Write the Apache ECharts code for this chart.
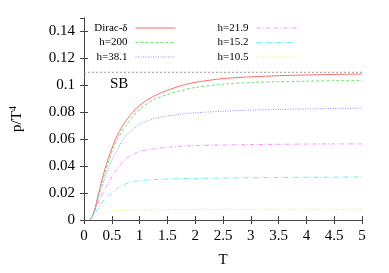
<!DOCTYPE html>
<html><head><meta charset="utf-8">
<script src="https://cdn.jsdelivr.net/npm/echarts@6/dist/echarts.min.js"></script>
<style>html,body{margin:0;padding:0;background:#fff}#c{width:389px;height:273px}</style>
</head><body><div id="c"></div>
<script>
const T = [0.1,0.15,0.2,0.25,0.3,0.4,0.5,0.6,0.75,0.9,1,1.25,1.5,1.75,2,2.5,3,3.5,4,4.5,5];
const diracDelta = [0,0.003,0.009,0.0175,0.026,0.041,0.053,0.063,0.0735,0.081,0.0852,0.0918,0.0963,0.0998,0.1022,0.1050,0.1063,0.1071,0.1077,0.1081,0.1084];
const h200 = [0,0.003,0.0085,0.0165,0.0245,0.038,0.0504,0.060,0.0699,0.078,0.0821,0.0894,0.0932,0.0962,0.0984,0.1008,0.1021,0.1027,0.1031,0.1034,0.1035];
const h38_1 = [0,0.0028,0.008,0.015,0.022,0.034,0.0443,0.0525,0.0626,0.068,0.0711,0.0752,0.0772,0.0786,0.0796,0.0808,0.0816,0.0821,0.0825,0.0828,0.083];
const h21_9 = [0,0.0025,0.007,0.012,0.017,0.025,0.0321,0.038,0.0455,0.049,0.0509,0.0528,0.054,0.0548,0.0553,0.0557,0.056,0.0562,0.0564,0.0565,0.0565];
const h15_2 = [0,0.002,0.005,0.008,0.0115,0.0165,0.020,0.0235,0.0268,0.0285,0.0292,0.030,0.0304,0.0307,0.0309,0.0312,0.0314,0.0316,0.0317,0.0318,0.0319];
const h10_5 = [0,0.0012,0.0025,0.0038,0.0048,0.006,0.0066,0.007,0.0073,0.0074,0.0075,0.0076,0.0077,0.0078,0.0078,0.0079,0.0079,0.008,0.008,0.008,0.008];
const sbValue = 0.1097;
const sbT = [0,5];
const seriesNames = ['Dirac-δ','h=200','h=38.1','h=21.9','h=15.2','h=10.5'];
const seriesValues = [diracDelta,h200,h38_1,h21_9,h15_2,h10_5];
const colors = ['#ff6b6b','#6fe26f','#8c8cff','#ff8cff','#66f0f0','#e8e84a'];
const dashes = ['solid',[3,2],[1,1.5],[4,2,1,2],[5,2,1,2],[1,2]];

const FONT = 'Liberation Serif';
const chart = echarts.init(document.getElementById('c'), null, {renderer:'canvas'});
const series = seriesNames.map((n,i)=>({
  name:n, type:'line', symbol:'none', smooth:0.3, silent:true,
  data:T.map((t,j)=>[t,seriesValues[i][j]]),
  lineStyle:{color:colors[i], width:1, type:dashes[i]},
  itemStyle:{color:colors[i]}
}));
series.push({name:'SB', type:'line', symbol:'none', silent:true,
  data:sbT.map(t=>[t,sbValue]),
  lineStyle:{color:'#999', width:1, type:[2,2]}});

const legendRight = [213,213,213,92,92,92];
const legendTop = [22.5,37,51.5,22.5,37,51.5];
const legends = seriesNames.map((n,i)=>({
  data:[n], right:legendRight[i], top:legendTop[i], padding:0, align:'right',
  itemWidth:40, itemHeight:8, selectedMode:false,
  itemStyle:{opacity:0},
  lineStyle:{width:1},
  textStyle:{fontFamily:FONT, fontSize:11, color:'#000', padding:[0,3,0,0]}
}));

const axisLine = {show:true, lineStyle:{color:'#444', width:1}};
const ticks = {show:true, inside:true, length:4, lineStyle:{color:'#444'}};
chart.setOption({
  animation:false,
  backgroundColor:'#fff',
  grid:{left:83, right:27, top:18, bottom:49, containLabel:false},
  legend:legends,
  xAxis:[
    {type:'value', min:0, max:5, interval:0.5, position:'bottom',
     axisLine:axisLine, axisTick:ticks, splitLine:{show:false},
     axisLabel:{fontFamily:FONT, fontSize:15, color:'#000', margin:9},
     name:'T', nameLocation:'middle', nameGap:33,
     nameTextStyle:{fontFamily:FONT, fontSize:15, color:'#000'}},
    {type:'value', min:0, max:5, interval:0.5, position:'top',
     axisLine:axisLine, axisTick:ticks, axisLabel:{show:false}, splitLine:{show:false}}
  ],
  yAxis:[
    {type:'value', min:0, max:0.15, interval:0.02, position:'left',
     axisLine:axisLine, axisTick:ticks, splitLine:{show:false},
     axisLabel:{fontFamily:FONT, fontSize:15, color:'#000', margin:9, showMaxLabel:false},
     name:'{a|p/T}{s|4}', nameLocation:'middle', nameGap:58, nameRotate:90,
     nameTextStyle:{rich:{
       a:{fontFamily:FONT, fontSize:15, color:'#000'},
       s:{fontFamily:FONT, fontSize:10, color:'#000', verticalAlign:'top', padding:[0,0,8,0]}}}},
    {type:'value', min:0, max:0.15, interval:0.02, position:'right',
     axisLine:axisLine, axisTick:ticks, axisLabel:{show:false}, splitLine:{show:false}}
  ],
  graphic:[{type:'text', left:110, top:77,
    style:{text:'SB', fontFamily:FONT, fontSize:15, fill:'#000'}}],
  series:series
});
</script></body></html>
